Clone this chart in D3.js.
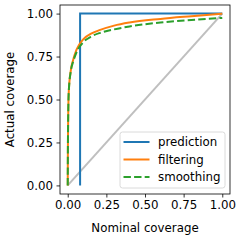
<!DOCTYPE html>
<html>
<head>
<meta charset="utf-8">
<script src="https://cdn.jsdelivr.net/npm/d3@7"></script>
<style>
  body { margin: 0; background: #fff; }
  svg { display: block; font-family: "DejaVu Sans", sans-serif; }
</style>
</head>
<body>
<div id="chart"></div>
<script>
// nominal vs actual coverage
const predNominal = [0.08, 0.08, 1.0];
const predActual = [0.0, 1.0, 1.0];

const filtNominal = [0, 0.001, 0.003, 0.007, 0.02, 0.035, 0.057, 0.1, 0.155, 0.21, 0.3, 0.4, 0.6, 0.8, 1.0];
const filtActual = [0, 0.2, 0.4, 0.55, 0.67, 0.73, 0.79, 0.85, 0.885, 0.905, 0.93, 0.948, 0.969, 0.985, 1.0];

const smoothNominal = [0, 0.001, 0.003, 0.007, 0.02, 0.035, 0.057, 0.1, 0.155, 0.21, 0.3, 0.4, 0.6, 0.8, 1.0];
const smoothActual = [0, 0.2, 0.4, 0.55, 0.665, 0.72, 0.775, 0.833, 0.868, 0.888, 0.908, 0.925, 0.948, 0.963, 0.975];

const diagNominal = [0, 1];
const diagActual = [0, 1];

const tickValues = [0, 0.25, 0.5, 0.75, 1.0];
const seriesNames = ["prediction", "filtering", "smoothing"];

let width = 240,
  height = 240;

let margin = { left: 60, right: 10, top: 5, bottom: 46 };
let fontSize = "11.8px";

let x = d3.scaleLinear()
  .domain([-0.05, 1.05])
  .range([margin.left, width - margin.right]);

let y = d3.scaleLinear()
  .domain([-0.05, 1.05])
  .range([height - margin.bottom, margin.top]);

let svg = d3.select('#chart').append('svg')
  .attr('width', width)
  .attr('height', height);

let line = d3.line()
  .x(d => x(d[0]))
  .y(d => y(d[1]));

let zip = (a, b) => a.map((v, i) => [v, b[i]]);

// clip to the axes area
svg.append("clipPath").attr("id", "clip")
  .append("rect")
  .attr("x", margin.left).attr("y", margin.top)
  .attr("width", width - margin.left - margin.right)
  .attr("height", height - margin.top - margin.bottom);

let plot = svg.append("g").attr("clip-path", "url(#clip)");

plot.append("path")
  .datum(zip(diagNominal, diagActual))
  .attr("d", line)
  .attr("fill", "none")
  .attr("stroke", "#bfbfbf")
  .attr("stroke-width", 2);

let series = [
  { name: seriesNames[0], data: zip(predNominal, predActual), color: "#1f77b4", dash: null },
  { name: seriesNames[1], data: zip(filtNominal, filtActual), color: "#ff7f0e", dash: null },
  { name: seriesNames[2], data: zip(smoothNominal, smoothActual), color: "#2ca02c", dash: "7.4,3.2" }
];

series.forEach(s => {
  plot.append("path")
    .datum(s.data)
    .attr("d", s.name == "prediction" ? line : line.curve(d3.curveMonotoneX))
    .attr("fill", "none")
    .attr("stroke", s.color)
    .attr("stroke-width", 2)
    .attr("stroke-dasharray", s.dash);
  line.curve(d3.curveLinear);
});

// axes
let xAxis = svg.append("g")
  .attr("transform", `translate(0,${height - margin.bottom})`)
  .call(d3.axisBottom(x).tickValues(tickValues).tickFormat(d3.format(".2f")).tickSizeOuter(0).tickSize(3.5).tickPadding(3.5));

let yAxis = svg.append("g")
  .attr("transform", `translate(${margin.left},0)`)
  .call(d3.axisLeft(y).tickValues(tickValues).tickFormat(d3.format(".2f")).tickSizeOuter(0).tickSize(3.5).tickPadding(3.5));

[xAxis, yAxis].forEach(a => {
  a.select(".domain").remove();
  a.selectAll("text")
    .style("font-size", fontSize)
    .style("font-family", "DejaVu Sans")
    .attr("fill", "#000");
  a.selectAll("line").attr("stroke", "#000").attr("stroke-width", 0.8);
});

// frame
svg.append("rect")
  .attr("x", margin.left)
  .attr("y", margin.top)
  .attr("width", width - margin.left - margin.right)
  .attr("height", height - margin.top - margin.bottom)
  .attr("fill", "none")
  .attr("stroke", "#000")
  .attr("stroke-width", 0.8);

svg.append("text")
  .attr("x", (margin.left + width - margin.right) / 2)
  .attr("y", 232)
  .attr("text-anchor", "middle")
  .style("font-size", fontSize)
  .text("Nominal coverage");

svg.append("text")
  .attr("transform", `translate(14,${(margin.top + height - margin.bottom) / 2}) rotate(-90)`)
  .attr("text-anchor", "middle")
  .style("font-size", fontSize)
  .text("Actual coverage");

// legend
let legend = svg.append("g").attr("transform", "translate(120,132)");

legend.append("rect")
  .attr("width", 105)
  .attr("height", 56)
  .attr("rx", 2.5)
  .attr("fill", "#fff")
  .attr("fill-opacity", 0.8)
  .attr("stroke", "#d0d0d0")
  .attr("stroke-width", 0.8);

series.forEach((s, i) => {
  let row = legend.append("g").attr("transform", `translate(0,${10 + i * 17.5})`);
  row.append("line")
    .attr("x1", 3.5).attr("x2", 29.5)
    .attr("stroke", s.color)
    .attr("stroke-width", 2)
    .attr("stroke-dasharray", s.dash);
  row.append("text")
    .attr("x", 38)
    .attr("dy", "0.35em")
    .style("font-size", fontSize)
    .text(s.name);
});
</script>
</body>
</html>
